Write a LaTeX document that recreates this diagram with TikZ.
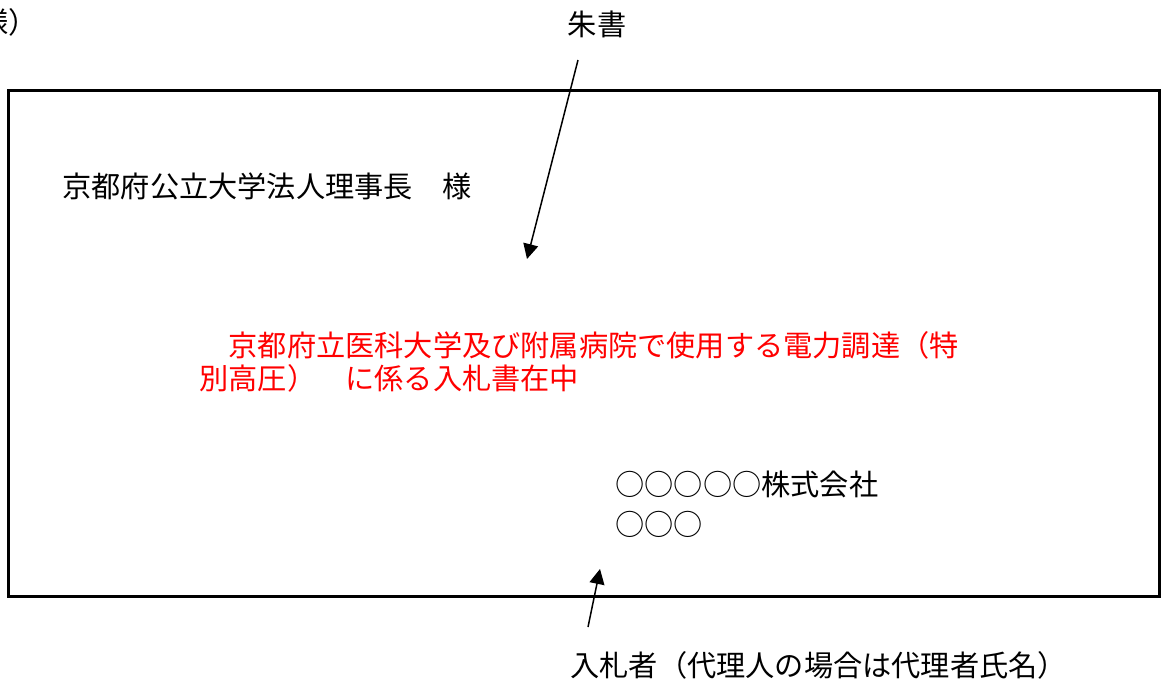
\documentclass[tikz,border=0pt]{standalone}
\usepackage{fontspec}
\newfontfamily\jpfont{Noto Sans CJK JP}
\usepackage{tikz}
\usetikzlibrary{arrows.meta}
\tikzset{
    txt/.style = {font=\jpfont\fontsize{14.6}{18}\selectfont,inner sep=0,anchor=west},
    redtxt/.style = {txt,text=red},
    envelope/.style = {line width=1.5pt},
    pointer/.style = {line width=0.75pt,-{Triangle[length=7.5pt,width=7.5pt]}}
}

\begin{document}
\begin{tikzpicture}[x=0.5pt,y=-0.5pt]
        \newcommand*\lsep{33}
        \useasboundingbox (0,0) rectangle (1161,682);
        % Envelope
        \draw[envelope] (8.5,90) rectangle (1159,596);
        % Outside labels
        \path (-21,22) node[txt] (form) {様）};
        \path (597,24) node[txt,anchor=center] (shusho) {朱書};
        \path (570,665) node[txt] (bidder) {入札者（代理人の場合は代理者氏名）};
        % Addressee
        \path (62,186) node[txt] (addr) {京都府公立大学法人理事長　様};
        % Red note
        \path (199,345) node[redtxt] (red1)
                {　京都府立医科大学及び附属病院で使用する電力調達（特}
            to +(0,\lsep) node[redtxt] (red2)
                {別高圧）　に係る入札書在中}
        ;
        % Sender
        \path (615,484) node[txt] (firm) {○○○○○株式会社}
            to +(0,40) node[txt] (agent) {○○○}
        ;
        % Pointers
        \path (578,60) coordinate (shstart)
            (527,259) coordinate (shend)
            (588,627) coordinate (bidstart)
            (600,569) coordinate (bidend)
        ;
        \foreach \src/\dest in {shstart/shend,bidstart/bidend}
            \draw[pointer] (\src) to (\dest);
    \end{tikzpicture}
\end{document}
